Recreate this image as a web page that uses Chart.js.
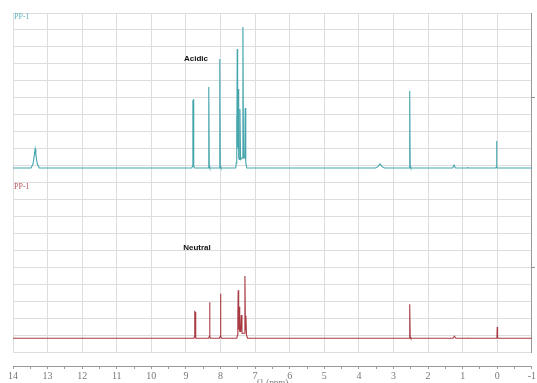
<!DOCTYPE html>
<html>
<head>
<meta charset="utf-8">
<script src="https://cdn.jsdelivr.net/npm/chart.js@4/dist/chart.umd.min.js"></script>
<style>
  html, body { margin: 0; padding: 0; background: #fff; overflow: hidden; }
  #wrap { width: 537px; height: 383px; overflow: hidden; }
</style>
</head>
<body>
<div id="wrap"><canvas id="nmrChart" width="537" height="390"></canvas></div>
<script>
// chemical shift axis (ppm)
const ppmMin = -1;
const ppmMax = 14;

// Acidic spectrum: shift (ppm) and intensity above its own baseline (grid units)
const acidicPpm = [14.0, 13.48, 13.42, 13.38, 13.36, 13.34, 13.30, 13.24,
  8.83, 8.81, 8.80, 8.79, 8.78, 8.77, 8.75,
  8.36, 8.345, 8.335, 8.325, 8.31,
  8.04, 8.027, 8.017, 8.007, 7.99,
  7.56, 7.545, 7.535, 7.527, 7.517, 7.505, 7.489, 7.475, 7.455, 7.439, 7.42,
  7.37, 7.353, 7.335, 7.30, 7.286, 7.27, 7.24,
  3.52, 3.45, 3.39, 3.33, 3.26,
  2.55, 2.535, 2.526, 2.517, 2.50,
  1.29, 1.25, 1.21, 0.87, 0.86, 0.85,
  0.04, 0.03, 0.02, 0.01, 0.0, -1.0];
const acidicInt = [0, 0, 0.25, 0.8, 1.12, 0.8, 0.25, 0,
  0, 0.1, 4.0, 0.4, 4.07, 0.1, 0,
  0, 0.1, 4.78, 0.1, 0,
  0, 0.1, 6.43, 0.1, 0,
  0, 0.3, 3.07, 0.9, 7.02, 1.2, 4.66, 0.6, 0.5, 3.48, 0.5,
  0.6, 8.32, 0.6, 0.6, 3.54, 0.3, 0,
  0, 0.08, 0.24, 0.08, 0,
  0, 0.1, 4.54, 0.1, 0,
  0, 0.18, 0, 0, 0.06, 0,
  0, 0.05, 1.59, 0.05, 0, 0];

// Neutral spectrum
const neutralPpm = [14.0,
  8.77, 8.755, 8.745, 8.735, 8.725, 8.71,
  8.34, 8.325, 8.315, 8.305, 8.29,
  8.03, 8.012, 8.0, 7.99, 7.97,
  7.53, 7.51, 7.50, 7.49, 7.475, 7.46, 7.445, 7.42, 7.40, 7.38,
  7.32, 7.295, 7.28, 7.266, 7.25, 7.22,
  2.55, 2.535, 2.526, 2.517, 2.50,
  1.28, 1.24, 1.20, 0.87, 0.86, 0.85,
  0.03, 0.01, 0.0, -0.01, -0.03, -1.0];
const neutralInt = [0,
  0, 0.1, 1.63, 0.3, 1.55, 0,
  0, 0.1, 2.12, 0.1, 0,
  0, 0.1, 2.63, 0.1, 0,
  0, 0.2, 1.22, 2.83, 0.5, 1.86, 0.4, 0.4, 1.37, 0.3,
  0.3, 3.68, 0.5, 1.33, 0.2, 0,
  0, 0.08, 2.0, 0.08, 0,
  0, 0.12, 0, 0, 0.05, 0,
  0, 0.05, 0.67, 0.05, 0, 0];

// stacked offsets of the two traces on the shared y scale
const acidicBase = 10.855;
const neutralBase = 0.81;

const labels = [
  { text: 'PP-1', x: 14, y: 19.75, color: '#5fb3bb', font: '8px "Liberation Serif"', align: 'left' },
  { text: 'PP-1', x: 14, y: 9.75, color: '#b5545c', font: '8px "Liberation Serif"', align: 'left' },
  { text: 'Acidic', x: 8.71, y: 17.29, color: '#111', font: 'bold 8px "Liberation Sans"', align: 'center' },
  { text: 'Neutral', x: 8.68, y: 6.15, color: '#111', font: 'bold 8px "Liberation Sans"', align: 'center' }
];

function toPoints(ppm, ints, base) {
  return ppm.map((p, i) => ({ x: p, y: ints[i] + base }));
}

const textPlugin = {
  id: 'textLabels',
  afterDatasetsDraw(chart) {
    const c = chart.ctx;
    const xs = chart.scales.x, ys = chart.scales.y;
    c.save();
    c.textBaseline = 'middle';
    labels.forEach(l => {
      c.font = l.font;
      c.fillStyle = l.color;
      c.textAlign = l.align;
      let px = xs.getPixelForValue(l.x);
      if (l.align === 'left') px += 1;
      c.fillText(l.text, px, ys.getPixelForValue(l.y));
    });
    c.restore();
  }
};

const ctx = document.getElementById('nmrChart').getContext('2d');
const nmrChart = new Chart(ctx, {
  type: 'scatter',
  data: {
    datasets: [{
      label: 'Acidic',
      data: toPoints(acidicPpm, acidicInt, acidicBase),
      showLine: true,
      borderColor: '#45a5ad',
      borderWidth: 1.1,
      pointRadius: 0,
      tension: 0
    }, {
      label: 'Neutral',
      data: toPoints(neutralPpm, neutralInt, neutralBase),
      showLine: true,
      borderColor: '#a83a42',
      borderWidth: 1.1,
      pointRadius: 0,
      tension: 0
    }]
  },
  options: {
    responsive: false,
    animation: false,
    layout: { padding: { top: 13, left: 13, right: 2, bottom: 0 } },
    plugins: { legend: { display: false }, tooltip: { enabled: false } },
    scales: {
      x: {
        type: 'linear',
        reverse: true,
        min: ppmMin,
        max: ppmMax,
        position: 'bottom',
        ticks: { display: false, stepSize: 1 },
        grid: { color: '#dddddd', drawTicks: false },
        border: { display: false },
        afterFit: (s) => { s.height = 14; }
      },
      x2: {
        type: 'linear',
        reverse: true,
        min: ppmMin,
        max: ppmMax,
        position: 'bottom',
        ticks: {
          stepSize: 0.5,
          autoSkip: false,
          maxRotation: 0,
          padding: 1,
          color: '#777',
          font: { family: '"Liberation Serif"', size: 10 },
          callback: (v) => Number.isInteger(v) ? String(v) : ''
        },
        grid: { drawOnChartArea: false, tickLength: 3, tickColor: '#999' },
        border: { color: '#999' },
        title: {
          display: true,
          text: 'f1 (ppm)',
          color: '#777',
          font: { family: '"Liberation Serif"', size: 9 },
          padding: { top: 0, bottom: 2 }
        },
        afterFit: (s) => { s.height = 24; }
      },
      y: {
        min: 0,
        max: 20,
        ticks: { display: false, stepSize: 1 },
        grid: { color: '#dddddd', drawTicks: false },
        border: { display: false },
        afterFit: (s) => { s.width = 0; }
      },
      y2: {
        position: 'right',
        min: 0,
        max: 20,
        afterBuildTicks: (s) => { s.ticks = [{ value: 5 }, { value: 15 }]; },
        ticks: { display: false },
        grid: { drawOnChartArea: false, tickLength: 3, tickColor: '#888' },
        border: { color: '#999' },
        afterFit: (s) => { s.width = 3; }
      }
    }
  },
  plugins: [textPlugin]
});
</script>
</body>
</html>
